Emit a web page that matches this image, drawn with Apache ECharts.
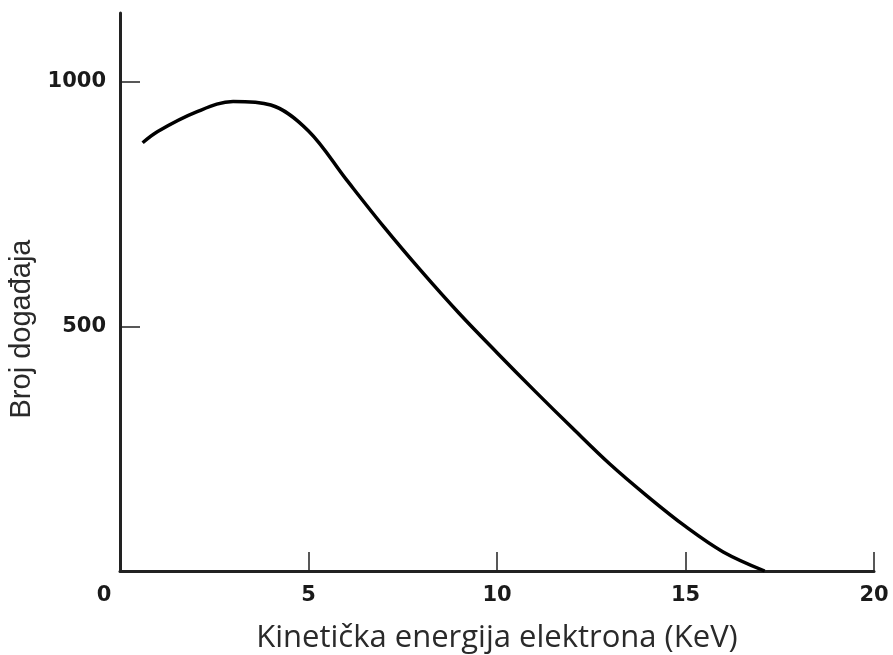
<!DOCTYPE html>
<html>
<head>
<meta charset="utf-8">
<script src="https://cdn.jsdelivr.net/npm/echarts@6/dist/echarts.min.js"></script>
<style>
  html, body { margin: 0; padding: 0; background: #fff; }
  #chart { width: 893px; height: 655px; }
</style>
</head>
<body>
<div id="chart"></div>
<script>
// energy (KeV) and event counts
const energy = [0.6, 1.0, 2.0, 3.0, 4.0, 5.0, 6.0, 7.0, 8.0, 9.0, 10.0, 11.0, 12.0, 13.0, 14.0, 15.0, 16.0, 17.1];
const counts = [875, 898, 937, 959, 952, 899, 800, 703, 612, 526, 446, 368, 292, 218, 152, 91, 39, 0];
const xLabels = [0, 5, 10, 15, 20];
const xTicks = [5, 10, 15, 20];
const yLabels = [500, 1000];

const chart = echarts.init(document.getElementById("chart"));

const tickFont = { fontFamily: "DejaVu Sans", fontWeight: "bold", fontSize: 21, color: "#1a1a1a" };

chart.setOption({
    animation: false,
    grid: { left: 120, right: 19, top: 13, bottom: 84, outerBoundsMode: "none" },
    xAxis: {
        type: "value",
        min: 0,
        max: 20,
        name: "Kinetička energija elektrona (KeV)",
        nameLocation: "middle",
        nameGap: 52,
        nameTextStyle: { fontFamily: "Open Sans", fontSize: 31, color: "#2a2a2a" },
        axisLine: { lineStyle: { color: "#222", width: 3 } },
        axisTick: { inside: true, length: 19, customValues: xTicks, lineStyle: { color: "#222", width: 1.5 } },
        axisLabel: Object.assign({
            customValues: xLabels,
            margin: 14,
            formatter: v => v === 0 ? "{z|0}" : String(v),
            rich: { z: Object.assign({ padding: [0, 32, 0, 0] }, tickFont) }
        }, tickFont),
        splitLine: { show: false }
    },
    yAxis: {
        type: "value",
        min: 0,
        max: 1140,
        name: "Broj događaja",
        nameLocation: "middle",
        nameGap: 70,
        nameTextStyle: { fontFamily: "Liberation Sans", fontSize: 29, color: "#2a2a2a", padding: [0, 74, 0, 0] },
        axisLine: { lineStyle: { color: "#222", width: 3 } },
        axisTick: { inside: true, length: 20, customValues: yLabels, lineStyle: { color: "#222", width: 1.5 } },
        axisLabel: Object.assign({
            customValues: yLabels,
            margin: 14,
            formatter: v => String(v)
        }, tickFont),
        splitLine: { show: false }
    },
    series: [{
        type: "line",
        data: energy.map((e, i) => [e, counts[i]]),
        smooth: 0.35,
        showSymbol: false,
        lineStyle: { color: "#000", width: 3.5 }
    }]
});
</script>
</body>
</html>
